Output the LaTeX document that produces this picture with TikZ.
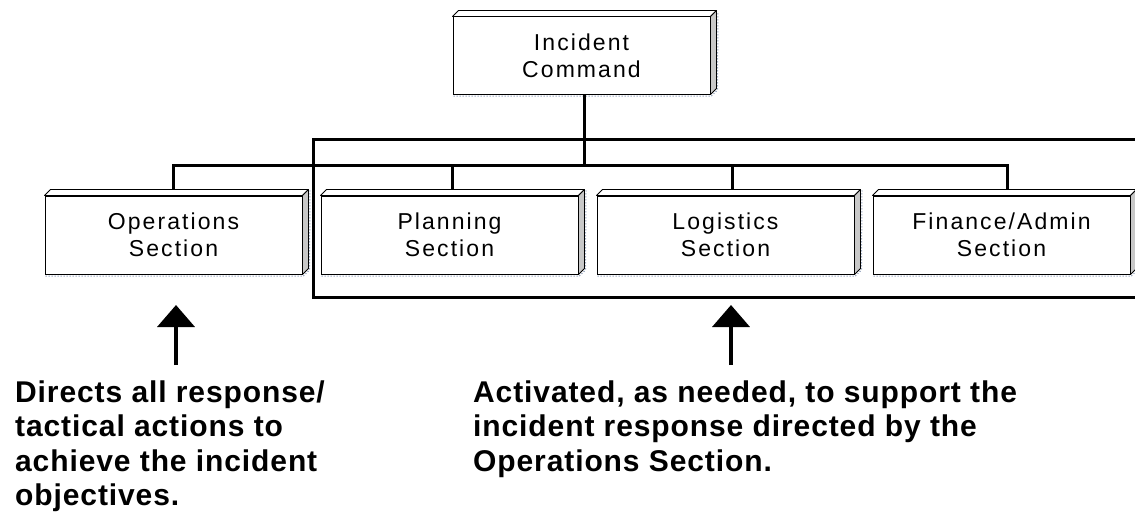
\documentclass[tikz,border=0pt]{standalone}
\usepackage{fontspec}
\setmainfont{Liberation Sans}
\usetikzlibrary{arrows.meta,calc}
\definecolor{sideface}{RGB}{200,200,200}
\definecolor{shadowdot}{RGB}{110,130,165}
\begin{document}
\begin{tikzpicture}[x=1pt,y=-1pt,
  boxtext/.style={font=\fontsize{23}{27}\selectfont\addfontfeatures{LetterSpace=9}},
  secbox/.style={draw=black, line width=1pt, fill=white, minimum width=257pt,
    minimum height=78pt, inner sep=0pt, align=center, boxtext},
  conn/.style={line width=3pt, line join=miter, black},
  face/.style={draw=black, line width=0.8pt, line join=round},
  shadowline/.style={shadowdot, dotted, line width=1pt},
  uparrow/.style={line width=4pt, -{Triangle[width=37pt,length=22pt]}},
  note/.style={font=\fontsize{30}{34.5}\selectfont\bfseries\addfontfeatures{LetterSpace=3},
    align=left, inner sep=0pt}]
\useasboundingbox (0,0) rectangle (1135,519);

% boxes
\node[secbox, minimum height=77pt] (ic) at (581.5,55.5) {Incident\\Command};
\node[secbox] (ops)  at (173.5,235) {Operations\\Section};
\node[secbox] (plan) at (449.5,235) {Planning\\Section};
\node[secbox] (log)  at (725.5,235) {Logistics\\Section};
\node[secbox] (fin)  at (1001.5,235) {Finance/Admin\\Section};

\foreach \n in {ic,ops,plan,log,fin}{
  \draw[shadowline] ($(\n.south west)+(1,1.5)$) -- ($(\n.south east)+(1,1.5)$) -- ++(6,-6) -- ($(\n.north east)+(7.5,-5)$);
  \draw[face, fill=white] (\n.north west) -- ++(6,-6) -- ($(\n.north east)+(6,-6)$) -- (\n.north east) -- cycle;
  \draw[face, fill=sideface] (\n.north east) -- ++(6,-6) -- ($(\n.south east)+(6,-6)$) -- (\n.south east) -- cycle;
}

% connectors
\coordinate (bus) at (0,166);
\draw[conn] ($(ic.south)+(2.5,0)$) coordinate (icb) -- (icb |- bus);
\draw[conn] ($(ops.north)+(-0.5,-6)$) -- ++(0,-24) -| ($(fin.north)+(5.5,-6)$);
\draw[conn] ($(plan.north)+(2.5,-6)$) coordinate (pt) -- (pt |- bus);
\draw[conn] ($(log.north)+(6.5,-6)$) coordinate (lt) -- (lt |- bus);

% frame around supporting sections
\coordinate (frTR) at (1140,139);
\coordinate (frTL) at (313,139);
\coordinate (frBL) at (313,297);
\coordinate (frBR) at (1140,297);
\draw[conn] (frTR) -- (frTL) -- (frBL) -- (frBR);

% notes (anchor on the baseline of the last line)
\node[note, anchor=base west] (t1) at (15,505.5) {Directs all response/\\tactical actions to\\achieve the incident\\objectives.};
\node[note, anchor=base west] (t2) at (473,471) {Activated, as needed, to support the\\incident response directed by the\\Operations Section.};

% arrows
\coordinate (a1s) at (176,365);
\coordinate (a1e) at (176,305);
\coordinate (a2s) at (731,365);
\coordinate (a2e) at (731,305);
\draw[uparrow] (a1s) -- (a1e);
\draw[uparrow] (a2s) -- (a2e);
\end{tikzpicture}
\end{document}
